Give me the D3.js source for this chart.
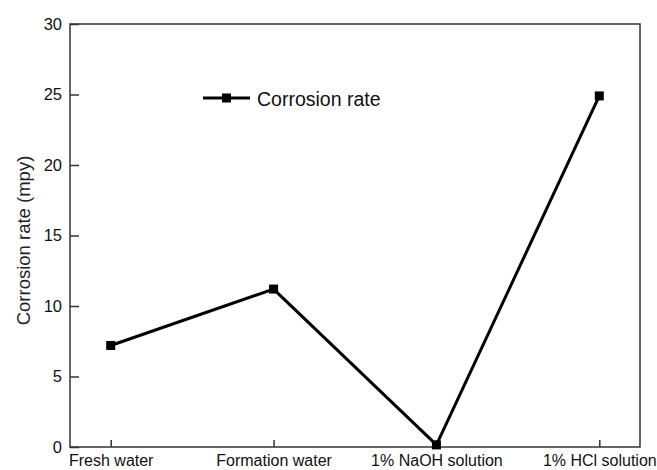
<!DOCTYPE html>
<html>
<head>
<meta charset="utf-8">
<script src="https://cdn.jsdelivr.net/npm/d3@7"></script>
<style>
  html, body { margin: 0; padding: 0; background: #fff; }
  svg { display: block; font-family: Arial, "Liberation Sans", sans-serif; }
</style>
</head>
<body>
<svg id="chart" width="657" height="470"></svg>
<script>
// Corrosion rate of the steel in each test medium
const categories = ["Fresh water", "Formation water", "1% NaOH solution", "1% HCl solution"];
const corrosionRate = [7.2, 11.2, 0.15, 24.9];
const yTicks = [0, 5, 10, 15, 20, 25, 30];
const seriesName = "Corrosion rate";
const yTitle = "Corrosion rate (mpy)";

const svg = d3.select("#chart");
const margin = { left: 70, right: 17, top: 24, bottom: 23 };
const W = 657, H = 470;
const innerW = W - margin.left - margin.right;
const innerH = H - margin.top - margin.bottom;

const g = svg.append("g").attr("transform", `translate(${margin.left},${margin.top})`);

const x = d3.scaleLinear().domain([0.75, categories.length + 0.25]).range([0, innerW]);
const y = d3.scaleLinear().domain([0, 30]).range([innerH, 0]);

const axisColor = "#333";
const font = "Arial, 'Liberation Sans', sans-serif";

// frame
g.append("rect")
  .attr("x", 0).attr("y", 0)
  .attr("width", innerW).attr("height", innerH)
  .attr("fill", "none").attr("stroke", axisColor).attr("stroke-width", 1.5);

// x axis with inward ticks
const xAxis = g.append("g")
  .attr("transform", `translate(0,${innerH})`)
  .call(d3.axisBottom(x)
    .tickValues(categories.map((d, i) => i + 1))
    .tickFormat((d) => categories[d - 1])
    .tickSizeInner(-7).tickSizeOuter(0).tickPadding(8));
xAxis.select(".domain").remove();
xAxis.selectAll(".tick line").attr("stroke", axisColor).attr("stroke-width", 1.5);
xAxis.selectAll(".tick text")
  .attr("fill", "#111").attr("font-size", 16)
  .attr("font-family", font);

// y axis with inward ticks
const yAxis = g.append("g")
  .call(d3.axisLeft(y).tickValues(yTicks)
    .tickSizeInner(-9).tickSizeOuter(0).tickPadding(8));
yAxis.select(".domain").remove();
yAxis.selectAll(".tick line").attr("stroke", axisColor).attr("stroke-width", 1.5);
yAxis.selectAll(".tick text")
  .attr("fill", "#111").attr("font-size", 16.5)
  .attr("font-family", font);

// y axis title
svg.append("text")
  .attr("transform", `translate(30,${margin.top + innerH / 2 + 5}) rotate(-90)`)
  .attr("text-anchor", "middle")
  .attr("font-size", 18.5)
  .attr("fill", "#222")
  .text(yTitle);

// data line
const pts = corrosionRate.map((v, i) => [x(i + 1), y(v)]);
g.append("path")
  .attr("d", d3.line()(pts))
  .attr("fill", "none")
  .attr("stroke", "#000")
  .attr("stroke-width", 3)
  .attr("stroke-linejoin", "round");

// square markers
const ms = 9;
g.selectAll("rect.marker")
  .data(corrosionRate)
  .join("rect")
  .attr("class", "marker")
  .attr("x", (d, i) => x(i + 1) - ms / 2)
  .attr("y", (d) => y(d) - ms / 2)
  .attr("width", ms).attr("height", ms)
  .attr("fill", "#000");

// legend
const lg = svg.append("g").attr("transform", "translate(203,98)");
lg.append("line")
  .attr("x1", 0).attr("x2", 47).attr("y1", 0).attr("y2", 0)
  .attr("stroke", "#000").attr("stroke-width", 3);
lg.append("rect")
  .attr("x", 23.5 - ms / 2).attr("y", -ms / 2)
  .attr("width", ms).attr("height", ms).attr("fill", "#000");
lg.append("text")
  .attr("x", 54).attr("y", 8)
  .attr("font-size", 19.5)
  .attr("fill", "#111")
  .text(seriesName);
</script>
</body>
</html>
